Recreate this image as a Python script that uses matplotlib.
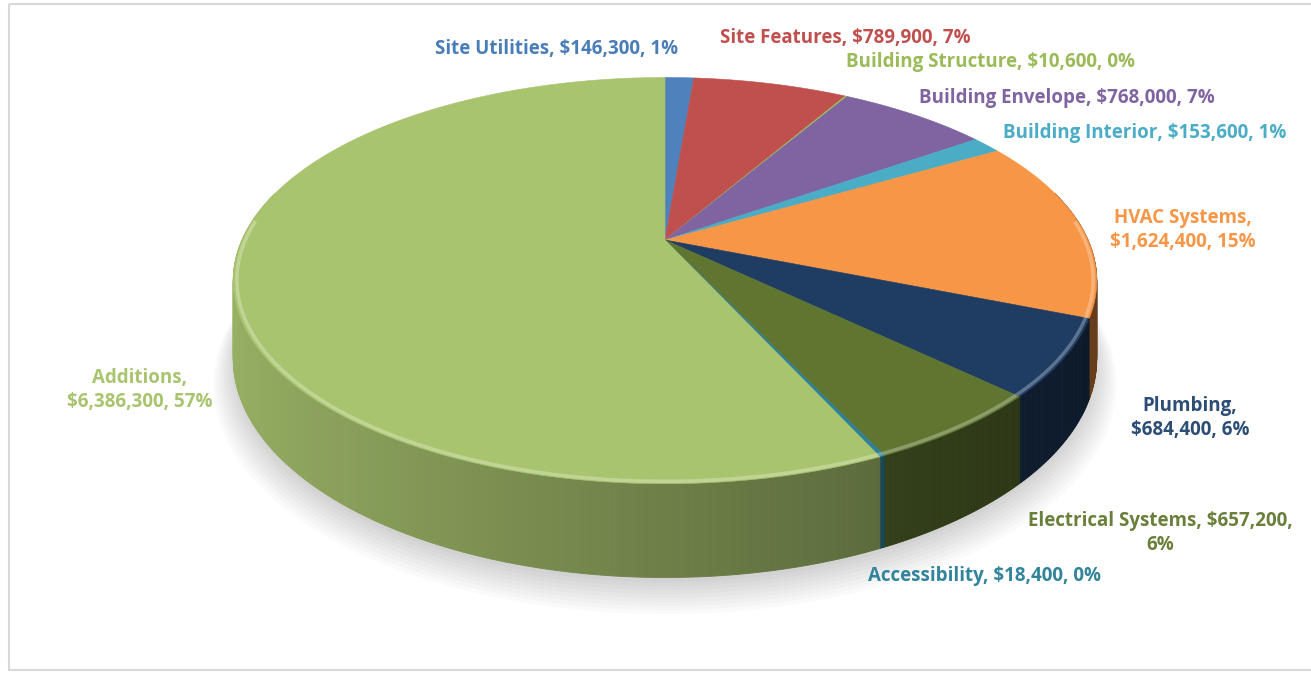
import numpy as np
import matplotlib.pyplot as plt
from matplotlib.patches import Polygon, Rectangle
from matplotlib.colors import to_rgb

# cost breakdown, clockwise from 12 o'clock
categories = ["Site Utilities", "Site Features", "Building Structure",
              "Building Envelope", "Building Interior", "HVAC Systems",
              "Plumbing", "Electrical Systems", "Accessibility", "Additions"]
costs = [146300, 789900, 10600, 768000, 153600, 1624400,
         684400, 657200, 18400, 6386300]
percents = [1, 7, 0, 7, 1, 15, 6, 6, 0, 57]
colors = ["#4F81BD", "#C0504D", "#9BBB59", "#8064A2", "#4BACC6", "#F79646",
          "#1F3D63", "#5F7530", "#2E8198", "#A9C46F"]
text_colors = ["#4A7DB8", "#C0504D", "#9BBB59", "#8064A2", "#4BACC6", "#F79646",
               "#2C4D75", "#6A7F3A", "#31849B", "#A9C46F"]

# label layout: (x, y, line break after the name)
label_pos = [(557, 49, False), (845, 38, False), (990, 62, False),
             (1067, 98, False), (1145, 133, False), (1183, 230, True),
             (1190, 418, True), (1160, 533, None), (985, 576, False),
             (140, 390, True)]

W, H = 1311, 674
X0, Y0 = 665, 240          # apex of the pie on screen
A, B = 423, 195            # horizontal / vertical radius
P = 0.2                    # perspective strength
DEPTH = 75                 # height of the pie wall


def proj(theta, r=1.0):
    u = r * np.sin(theta)
    v = r * np.cos(theta)
    s = 1.0 / (1.0 + P * v)
    return X0 + A * u * s, Y0 - B * v * s, s


def shade(c, f):
    return tuple(min(1, max(0, ch * f)) for ch in to_rgb(c))


def blend(c, other, t):
    a, b = np.array(to_rgb(c)), np.array(to_rgb(other))
    return tuple(a * (1 - t) + b * t)


fig = plt.figure(figsize=(W / 100, H / 100), dpi=100)
ax = fig.add_axes([0, 0, 1, 1])
ax.set_xlim(0, W)
ax.set_ylim(H, 0)
ax.axis("off")

ax.add_patch(Rectangle((9, 4), W, H - 8, fill=False, ec="#d9d9d9", lw=1.5))

total = sum(costs)
edges = np.concatenate([[0], np.cumsum(costs)]) / total * 2 * np.pi

# soft shadow under the pie
for k in range(10):
    t = np.linspace(0, 2 * np.pi, 200)
    x, y, s = proj(t, 0.99 + 0.006 * k)
    ax.fill(x, y + DEPTH * s + 4 + 2 * k, color="#000000", alpha=0.018, lw=0)

# outer wall, shaded by angle (light from the left)
for i, c in enumerate(colors):
    t0, t1 = edges[i], edges[i + 1]
    n = max(2, int(np.degrees(t1 - t0) / 0.5))
    ts = np.linspace(t0, t1, n + 1)
    for a0, a1 in zip(ts[:-1], ts[1:]):
        if np.cos((a0 + a1) / 2) > 0.25:
            continue
        xa, ya, sa = proj(np.array([a0, a1]))
        quad = [(xa[0], ya[0]), (xa[1], ya[1]),
                (xa[1], ya[1] + DEPTH * sa[1]), (xa[0], ya[0] + DEPTH * sa[0])]
        f = 0.65 - 0.25 * np.sin((a0 + a1) / 2)
        col = shade(c, f)
        ax.add_patch(Polygon(quad, closed=True, fc=col, ec=col, lw=0.6))

# top faces
for i, c in enumerate(colors):
    ts = np.linspace(edges[i], edges[i + 1], 200)
    x, y, _ = proj(ts)
    pts = [(X0, Y0)] + list(zip(x, y))
    ax.add_patch(Polygon(pts, closed=True, fc=c, ec=c, lw=0.4))

# bevel highlight on the front rim
for i, c in enumerate(colors):
    ts = np.linspace(edges[i], edges[i + 1], 200)
    ts = ts[np.cos(ts) < 0.1]
    if len(ts) < 2:
        continue
    x, y, _ = proj(ts, 0.992)
    ax.plot(x, y, color=blend(c, "white", 0.35), lw=2.5, alpha=0.8,
            solid_capstyle="butt")

# data labels
for name, val, pct, col, (lx, ly, brk) in zip(categories, costs, percents,
                                              text_colors, label_pos):
    if brk is None:
        txt = f"{name}, ${val:,},\n{pct}%"
    elif brk:
        txt = f"{name},\n${val:,}, {pct}%"
    else:
        txt = f"{name}, ${val:,}, {pct}%"
    ax.text(lx, ly, txt, color=col, fontsize=13.5, fontweight="bold",
            family="Open Sans", ha="center", va="center", linespacing=1.25)

fig.savefig("out.png", dpi=100)
